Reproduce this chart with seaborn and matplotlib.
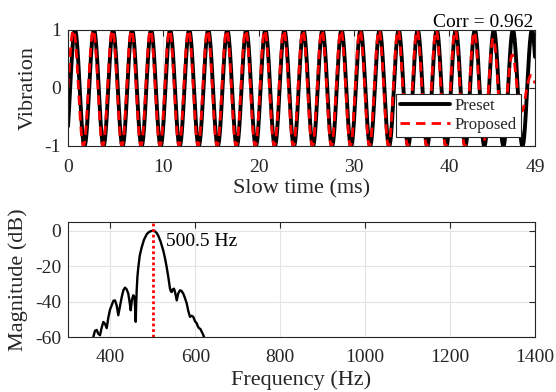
import numpy as np
import pandas as pd
import matplotlib
matplotlib.use("Agg")
import matplotlib.pyplot as plt
import seaborn as sns

# ---------------- data ----------------
# top panel: slow-time vibration (sinusoid parameters)
slow_time_limits_ms = [0, 49]
slow_time_ticks = [0, 10, 20, 30, 40, 49]
vibration_ticks = [-1, 0, 1]
preset_freq_hz = 500.5
preset_phase_rad = -0.72
proposed_phase_lead_rad = 0.2
proposed_start_extra_lead_rad = 0.52
proposed_start_lead_decay_ms = 1.2
# peak value of each half cycle of the proposed curve (last cycles decay)
proposed_half_cycle_amp = [1.0] * 42 + [0.97, 0.92, 0.86, 0.72, 0.57, 0.40, 0.22]
corr_text = "Corr = 0.962"
series_names = ["Preset", "Proposed"]

# bottom panel: spectrum magnitude (dB) read point by point
freq_hz = [355, 359.6, 363.5, 367.6, 371, 375.4, 379, 383.2, 387, 391.2,
           395, 399, 403, 407, 410.7, 414.5, 418.5, 422.5, 426.5, 430.5,
           434.3, 438, 442, 445, 447.7, 450.5, 453.8, 456.5, 458.5, 459.5,
           460.5, 461.8, 463.5, 465.6, 469, 473.6, 479, 485.4, 491, 496,
           500.5, 505, 509, 512.7, 518, 524.5, 528.5, 532.5, 536.5, 540.3,
           542.5, 544.3, 547, 549.7, 552.5, 556.1, 559.5, 563.8, 567.5, 571.6,
           575.5, 579.6, 583.5, 587.4, 591, 595.1, 599, 603.2, 606, 608.6,
           612, 614.9, 618, 620.3, 623]
mag_db = [-64, -60, -56.5, -56, -58, -59, -55, -51.5, -52.5, -55,
          -49, -44.5, -42, -39.5, -39.3, -42, -47.7, -42.5, -37.5, -33.5,
          -32.1, -33, -35.5, -40, -44.9, -39, -36.4, -37.5, -45, -51.4,
          -42, -33.6, -26, -20.6, -14, -9.3, -5, -1.9, -0.6, -0.1,
          0, -0.3, -1.3, -2.8, -6, -11.2, -15.5, -20.6, -26.5, -32.7,
          -34.3, -34.6, -33, -32.7, -35, -39.3, -35.5, -33.6, -34, -35.5,
          -38, -41, -45.5, -48.6, -48, -48.6, -51, -52.3, -54, -55,
          -55.5, -57, -58.5, -60, -63]
peak_freq_hz = 500.5
peak_label = "500.5 Hz"
freq_limits = [300, 1400]
freq_ticks = [400, 600, 800, 1000, 1200, 1400]
mag_limits = [-60, 5]
mag_ticks = [-60, -40, -20, 0]

# ---------------- build curves ----------------
t_ms = np.linspace(slow_time_limits_ms[0], slow_time_limits_ms[1], 2451)
theta_b = 2 * np.pi * preset_freq_hz * t_ms / 1000.0 + preset_phase_rad
preset = np.sin(theta_b)
theta_r = theta_b + proposed_phase_lead_rad + proposed_start_extra_lead_rad * np.exp(
    -t_ms / proposed_start_lead_decay_ms)
k = np.clip(np.floor(theta_r / np.pi).astype(int), 0, len(proposed_half_cycle_amp) - 1)
proposed = np.asarray(proposed_half_cycle_amp)[k] * np.sin(theta_r)

df_top = pd.DataFrame({"t": t_ms, "Preset": preset, "Proposed": proposed})
df_spec = pd.DataFrame({"f": freq_hz, "db": mag_db})

# ---------------- style ----------------
sns.set_theme(style="white")
plt.rcParams["font.family"] = ["Liberation Serif", "DejaVu Serif"]
plt.rcParams["axes.unicode_minus"] = False
plt.rcParams["axes.edgecolor"] = "#262626"
plt.rcParams["axes.linewidth"] = 0.8

W, H = 556, 392
fig = plt.figure(figsize=(W / 100, H / 100), dpi=100)
fig.patch.set_facecolor("white")


def px_axes(l, t, r, b):
    return fig.add_axes([l / W, 1 - b / H, (r - l) / W, (b - t) / H])


ax1 = px_axes(68, 30, 535, 146)
ax2 = px_axes(68, 222, 535, 337)

for ax in (ax1, ax2):
    ax.set_axisbelow(True)
    ax.grid(True, color="#e4e4e4", linewidth=0.8)
    ax.tick_params(direction="in", length=4, width=0.8, top=True, right=True,
                   colors="#262626", labelsize=14, pad=5)
    ax.tick_params(axis="x", pad=9)
    for s in ax.spines.values():
        s.set_color("#262626")
        s.set_linewidth(0.8)

# top panel
sns.lineplot(data=df_top, x="t", y="Preset", ax=ax1, color="black",
             linewidth=2.8, label=series_names[0], estimator=None)
sns.lineplot(data=df_top, x="t", y="Proposed", ax=ax1, color="#ff0000",
             linewidth=2.0, linestyle=(0, (3.4, 2.2)), label=series_names[1],
             estimator=None)
ax1.set_xlim(*slow_time_limits_ms)
ax1.set_ylim(-1, 1)
ax1.set_xticks(slow_time_ticks)
ax1.set_yticks(vibration_ticks)
ax1.set_xlabel("Slow time (ms)", fontsize=16, color="#262626", labelpad=3)
ax1.set_ylabel("Vibration", fontsize=16, color="#262626", labelpad=5)
ax1.text(0.996, 1.026, corr_text, transform=ax1.transAxes, ha="right",
         va="baseline", fontsize=14, color="black")
leg = ax1.legend(loc="lower right", bbox_to_anchor=((521 - 68) / 467, (146 - 137) / 116),
                 borderaxespad=0, fontsize=12, frameon=True, fancybox=False,
                 framealpha=1, edgecolor="#262626", handlelength=3.0,
                 handletextpad=0.3, labelspacing=0.15, borderpad=0.25)
leg.get_frame().set_linewidth(0.8)

# bottom panel
sns.lineplot(data=df_spec, x="f", y="db", ax=ax2, color="black",
             linewidth=1.7, estimator=None, sort=False)
ax2.axvline(peak_freq_hz, color="#ff0000", linewidth=2.0, linestyle=(0, (1, 1)))
ax2.text(531, -6, peak_label, fontsize=14, ha="left", va="center", color="black")
ax2.set_xlim(*freq_limits)
ax2.set_ylim(*mag_limits)
ax2.set_xticks(freq_ticks)
ax2.set_yticks(mag_ticks)
ax2.set_xlabel("Frequency (Hz)", fontsize=16, color="#262626", labelpad=3)
ax2.set_ylabel("Magnitude (dB)", fontsize=16, color="#262626", labelpad=5)

fig.savefig("out.png", dpi=100, facecolor="white")
